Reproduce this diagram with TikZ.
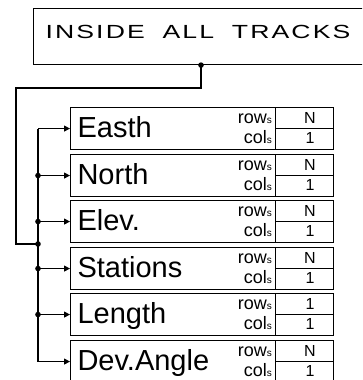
\documentclass[tikz,border=0pt]{standalone}
\usepackage{fontspec}
\setmainfont{Liberation Sans}
\usetikzlibrary{arrows.meta,calc}

\tikzset{
  wire/.style={line width=1.1pt, line join=miter},
  feed/.style={wire, -{Triangle[length=6pt,width=6pt]}},
  joint/.style={circle, fill=black, inner sep=0pt, minimum size=5.6pt},
  titlebox/.style={draw, line width=1.1pt, anchor=north west, minimum width=360pt,
    minimum height=56pt, inner xsep=12pt, inner ysep=0pt, text width=336pt, align=left,
    text height=13.6pt, text depth=9pt,
    font=\fontsize{19}{21}\selectfont},
  fieldbox/.style={draw, line width=1.1pt, anchor=north west, minimum width=205pt,
    minimum height=42pt, inner xsep=7pt, inner ysep=0pt, text width=191pt, align=left,
    text height=21pt, text depth=3pt,
    font=\fontsize{29}{30}\selectfont},
  sizebox/.style={draw, line width=1.1pt, anchor=north west, minimum width=58pt,
    minimum height=42pt, inner sep=0pt},
  dimtag/.style={anchor=base east, inner sep=0pt, font=\fontsize{18}{20}\selectfont},
  dimval/.style={anchor=base, inner sep=0pt, font=\fontsize{16}{18}\selectfont},
}
\newcommand{\tagtext}[1]{#1{\fontsize{10}{12}\selectfont s}}

\begin{document}
\begin{tikzpicture}[x=1pt, y=-1pt]
  \useasboundingbox (0,0) rectangle (362,380);
  \clip (0,0) rectangle (362,380);
  \fill[white] (0,0) rectangle (362,380);

  % structure header
  \node[titlebox] (title) at (33,8)
    {\scalebox{1.4}[1]{\addfontfeatures{LetterSpace=8}INSIDE\ \ ALL\ \ TRACKS}};

  % the six fields with their row/column sizes
  \foreach \name/\rows/\top [count=\i] in {Easth/N/107, North/N/154, Elev./N/200,
                                           Stations/N/247, Length/1/293, Dev.Angle/N/340} {
    \node[fieldbox] (f\i) at (70,\top) {\name};
    \node[sizebox] (s\i) at (275,\top) {};
    \draw[line width=1.1pt] (s\i.west) -- (s\i.east);
    \node[dimtag] (r\i) at (272,\top+16) {\tagtext{row}};
    \node[dimtag] (c\i) at (272,\top+36) {\tagtext{col}};
    \node[dimval] (rv\i) at (310,\top+16) {\rows};
    \node[dimval] (cv\i) at (310,\top+36) {1};
  }

  % wiring from the header to the field bus
  \coordinate (hub) at ([xshift=168pt]title.south west);
  \coordinate (bend) at (16,88);
  \coordinate (join) at (38,244);
  \draw[wire] (hub) -- (hub |- bend) -- (bend) -- (bend |- join) -- (join);
  \draw[wire] (f1.west -| join) -- (f6.west -| join);
  \foreach \i in {1,...,6} {
    \draw[feed] (f\i.west -| join) -- (f\i.west);
  }
  \node[joint] at (hub) {};
  \node[joint] at (join) {};
  \foreach \i in {2,...,5} {
    \node[joint] at (f\i.west -| join) {};
  }
\end{tikzpicture}
\end{document}
